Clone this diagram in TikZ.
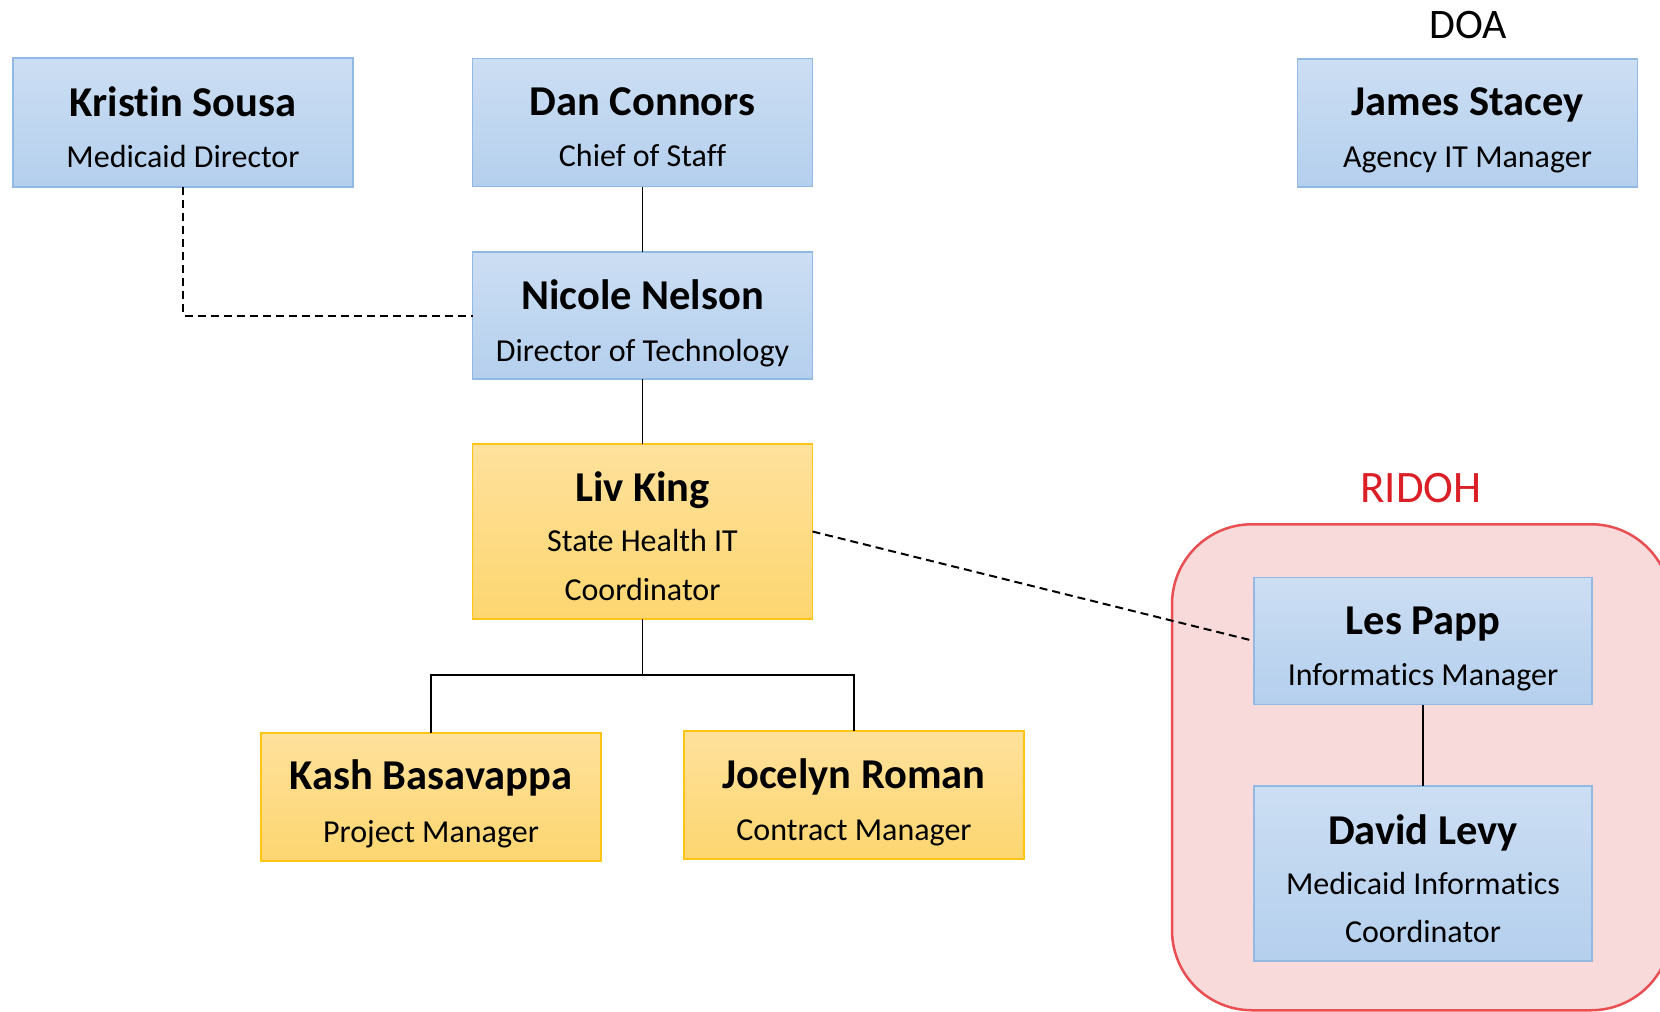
\documentclass[tikz,border=0pt]{standalone}
\usepackage{fontspec}
\setmainfont{Carlito}[Ligatures=CommonOff]
\usetikzlibrary{calc}
\definecolor{bluetop}{RGB}{204,222,243}
\definecolor{bluebot}{RGB}{180,207,237}
\definecolor{blueedge}{RGB}{146,184,228}
\definecolor{goldtop}{RGB}{254,225,156}
\definecolor{goldbot}{RGB}{253,214,112}
\definecolor{goldedge}{RGB}{255,196,20}
\definecolor{pinkfill}{RGB}{249,218,219}
\definecolor{pinkedge}{RGB}{232,78,82}
\definecolor{ridohred}{RGB}{218,31,38}
\tikzset{
  box/.style={rectangle, draw, line width=1.3pt, inner sep=0pt, outer sep=0pt, minimum width=340pt},
  bluebox/.style={box, draw=blueedge, top color=bluetop, bottom color=bluebot},
  goldbox/.style={box, draw=goldedge, top color=goldtop, bottom color=goldbot},
  namet/.style={anchor=base, inner sep=0pt, font=\fontsize{42.5}{50}\selectfont\bfseries},
  rolet/.style={anchor=base, inner sep=0pt, font=\fontsize{32}{38}\selectfont},
  grouplabel/.style={anchor=base, inner sep=0pt, font=\fontsize{42}{50}\selectfont},
  link/.style={draw=black, line width=1.5pt},
  dotlink/.style={draw=black, line width=2pt, dash pattern=on 8pt off 5pt},
}
\begin{document}
\begin{tikzpicture}[x=1pt,y=-1pt]
\useasboundingbox (0,0) rectangle (1660,1012);

% RIDOH container
\node[draw=pinkedge, fill=pinkfill, line width=2.5pt, rounded corners=80pt,
      minimum width=499pt, minimum height=486pt, inner sep=0pt] (ridoh) at (1421.5,767.25) {};
\node[grouplabel, text=ridohred, font=\fontsize{45}{52}\selectfont] (ridohlbl) at (1421,502) {RIDOH};
\node[grouplabel] (doalbl) at (1468,38) {DOA};

% boxes
\node[bluebox, minimum height=129pt] (kristin) at (183,122.5) {};
\node[namet] (kristinN) at ($(kristin.north)+(0,58)$) {Kristin Sousa};
\node[rolet] (kristinR) at ($(kristin.north)+(0,109)$) {Medicaid Director};

\node[bluebox, minimum height=128pt] (dan) at (642.5,122.5) {};
\node[namet] (danN) at ($(dan.north)+(0,57)$) {Dan Connors};
\node[rolet] (danR) at ($(dan.north)+(0,108)$) {Chief of Staff};

\node[bluebox, minimum height=128pt] (james) at (1467.5,123) {};
\node[namet] (jamesN) at ($(james.north)+(0,56)$) {James Stacey};
\node[rolet] (jamesR) at ($(james.north)+(0,108)$) {Agency IT Manager};

\node[bluebox, minimum height=127pt] (nicole) at (642.5,315.5) {};
\node[namet] (nicoleN) at ($(nicole.north)+(0,57)$) {Nicole Nelson};
\node[rolet] (nicoleR) at ($(nicole.north)+(0,109)$) {Director of Technology};

\node[goldbox, minimum height=175pt] (liv) at (642.5,531.5) {};
\node[namet] (livN) at ($(liv.north)+(0,57)$) {Liv King};
\node[rolet] (livR1) at ($(liv.north)+(0,107)$) {State Health IT};
\node[rolet] (livR2) at ($(liv.north)+(0,156)$) {Coordinator};

\node[goldbox, minimum height=128pt] (kash) at (431,797) {};
\node[namet] (kashN) at ($(kash.north)+(0,56)$) {Kash Basavappa};
\node[rolet] (kashR) at ($(kash.north)+(0,109)$) {Project Manager};

\node[goldbox, minimum height=128pt] (jocelyn) at (854,795) {};
\node[namet] (jocelynN) at ($(jocelyn.north)+(0,57)$) {Jocelyn Roman};
\node[rolet] (jocelynR) at ($(jocelyn.north)+(0,109)$) {Contract Manager};

\node[bluebox, minimum width=338pt, minimum height=127pt] (les) at (1423,641) {};
\node[namet] (lesN) at ($(les.north)+(0,57)$) {Les Papp};
\node[rolet] (lesR) at ($(les.north)+(0,108)$) {Informatics Manager};

\node[bluebox, minimum width=338pt, minimum height=175pt] (david) at (1423,873.5) {};
\node[namet] (davidN) at ($(david.north)+(0,58)$) {David Levy};
\node[rolet] (davidR1) at ($(david.north)+(0,108)$) {Medicaid Informatics};
\node[rolet] (davidR2) at ($(david.north)+(0,156)$) {Coordinator};

% connectors
\draw[link] (dan.south) -- (nicole.north);
\draw[link] (nicole.south) -- (liv.north);
\coordinate (split) at ($(liv.south)+(0,56)$);
\draw[link] (liv.south) -- (split) -| (kash.north);
\draw[link] (split) -| (jocelyn.north);
\draw[link] (les.south) -- (david.north);
\draw[dotlink] (kristin.south) |- (nicole.west);
\draw[dotlink] (liv.east) -- (les.west);
\end{tikzpicture}
\end{document}
